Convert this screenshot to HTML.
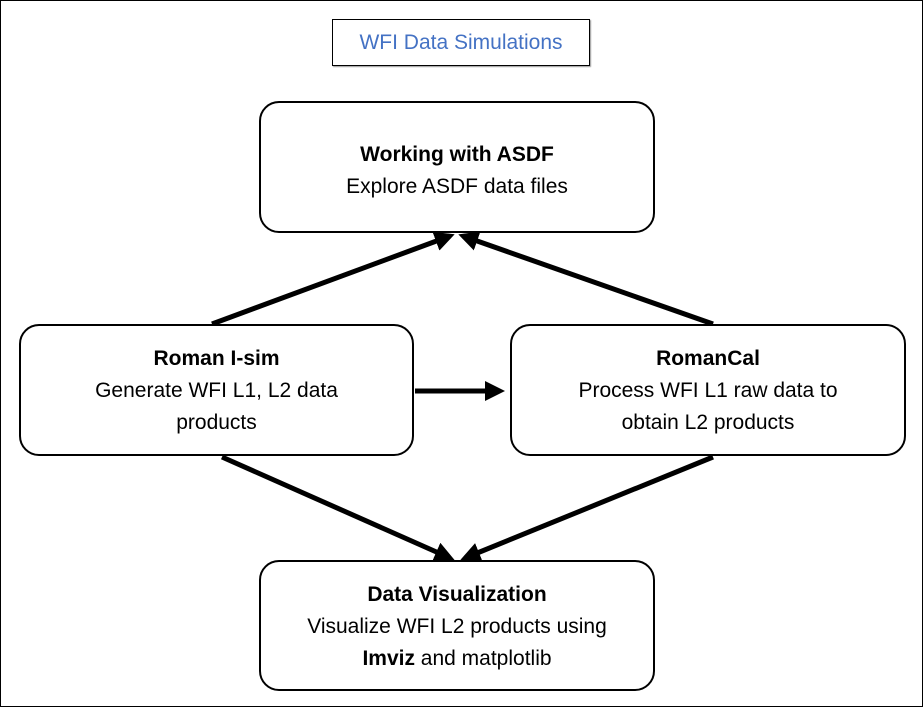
<!DOCTYPE html>
<html><head><style>
body{margin:0;width:924px;height:708px;background:#fff;position:relative;font-family:"Liberation Sans",sans-serif;overflow:hidden}
.frame{position:absolute;left:0;top:0;width:921px;height:705px;border:1px solid #000}
.box{position:absolute;border:2px solid #000;border-radius:20px;background:#fff;box-sizing:border-box;text-align:center;font-size:21px;line-height:32px;color:#000}
.t{position:absolute;left:332px;top:19px;width:258px;height:47px;border:1px solid #000;box-sizing:border-box;color:#4472c4;font-size:21px;line-height:45px;text-align:center;box-shadow:1px 1px 1px #999}
b{font-weight:bold}
</style></head><body>
<div class="frame"></div>
<div class="t">WFI Data Simulations</div>
<svg width="924" height="708" style="position:absolute;left:0;top:0">
<defs><marker id="a" markerWidth="4" markerHeight="4" refX="3" refY="2" orient="auto" markerUnits="strokeWidth"><path d="M0,0 L4,2 L0,4 z" fill="#000"/></marker></defs>
<g stroke="#000" stroke-width="5" fill="none">
<line x1="212" y1="324" x2="450" y2="236" marker-end="url(#a)"/>
<line x1="713" y1="324" x2="463" y2="236" marker-end="url(#a)"/>
<line x1="415" y1="391" x2="500" y2="391" marker-end="url(#a)"/>
<line x1="222" y1="457" x2="450" y2="558" marker-end="url(#a)"/>
<line x1="713" y1="457" x2="465" y2="558" marker-end="url(#a)"/>
</g></svg>
<div class="box" style="left:259px;top:101px;width:396px;height:132px;padding-top:36px"><b>Working with ASDF</b><br>Explore ASDF data files</div>
<div class="box" style="left:19px;top:324px;width:395px;height:132px;padding-top:17px"><b>Roman I-sim</b><br>Generate WFI L1, L2 data<br>products</div>
<div class="box" style="left:510px;top:324px;width:396px;height:132px;padding-top:17px"><b>RomanCal</b><br>Process WFI L1 raw data to<br>obtain L2 products</div>
<div class="box" style="left:259px;top:560px;width:396px;height:131px;padding-top:17px"><b>Data Visualization</b><br>Visualize WFI L2 products using<br><b>Imviz</b> and matplotlib</div>
</body></html>
